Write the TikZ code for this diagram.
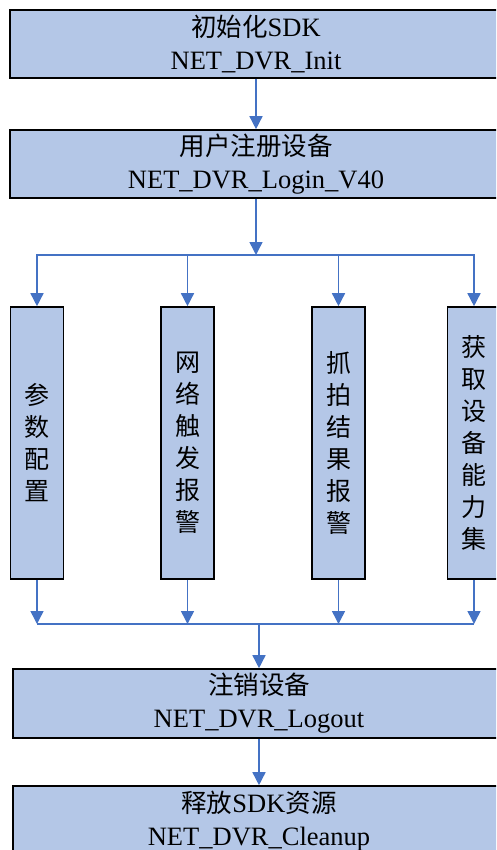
\documentclass[tikz,border=0pt]{standalone}
\usepackage{fontspec}
\setmainfont{Liberation Serif}
\newfontfamily\cjk{Noto Sans CJK SC}
\usetikzlibrary{arrows.meta}
\definecolor{boxblue}{HTML}{B4C7E7}
\definecolor{linkblue}{HTML}{4472C4}
\newcommand{\zh}[1]{{\cjk\fontsize{25.5}{33}\selectfont #1}}

\begin{document}
\begin{tikzpicture}[x=1pt,y=-1pt]
\tikzstyle{box}=[draw,line width=1.6pt,fill=boxblue,rectangle,align=center,inner sep=0pt,font=\fontsize{26.5}{33}\selectfont]
\tikzstyle{wide}=[box,minimum width=492pt,minimum height=68pt]
\tikzstyle{tall}=[box,minimum width=53pt,minimum height=272pt,font=\cjk\fontsize{25}{32}\selectfont]
\tikzstyle{arr}=[draw=linkblue,line width=1.5pt,-{Triangle[width=13pt,length=13pt]}]
\tikzstyle{link}=[draw=linkblue,line width=1.5pt]

\useasboundingbox (0,0) rectangle (496,850);
\clip (0,0) rectangle (496,850);

\node (init) at (256,44) [wide] {\zh{初始化}SDK\\NET\_DVR\_Init};
\node (login) at (256,164) [wide] {\zh{用户注册设备}\\NET\_DVR\_Login\_V40};
\coordinate (split) at (256,255);

\node (param) at (37,443) [tall] {参\\数\\配\\置};
\node (alarm) at (187.5,443) [tall] {网\\络\\触\\发\\报\\警};
\node (capture) at (338.5,443) [tall] {抓\\拍\\结\\果\\报\\警};
\node (ability) at (474,443) [tall] {获\\取\\设\\备\\能\\力\\集};

\coordinate (join) at (259,624);
\node (logout) at (259,703.5) [wide,minimum height=69pt] {\zh{注销设备}\\NET\_DVR\_Logout};
\node (cleanup) at (259,821) [wide,minimum height=70pt] {\zh{释放}SDK\zh{资源}\\NET\_DVR\_Cleanup};

\draw[arr] (init) -- (login);
\draw[arr] (login) -- (split);
\foreach \n in {param,alarm,capture,ability}
  \draw[arr] (split) -| (\n);

\foreach \n in {param,alarm,capture,ability}
  \draw[arr] (\n) -- (\n |- join);
\draw[link] (param |- join) -- (ability |- join);
\draw[arr] (join) -- (logout);
\draw[arr] (logout) -- (cleanup);

\end{tikzpicture}
\end{document}
